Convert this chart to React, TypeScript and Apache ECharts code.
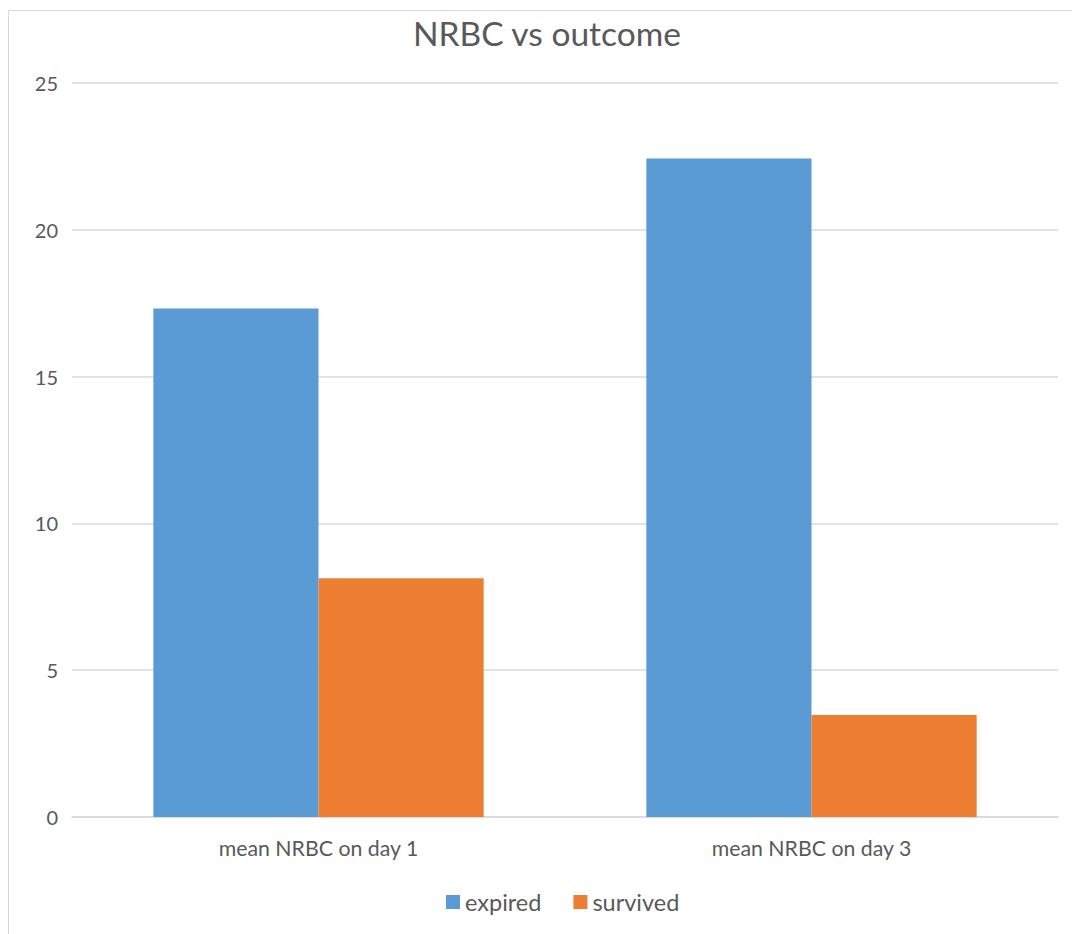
import React, { useEffect, useRef } from "react";
import * as echarts from "echarts";

const categories = ["mean NRBC on day 1", "mean NRBC on day 3"];
const expired = [17.32, 22.43];
const survived = [8.13, 3.47];
const seriesNames = ["expired", "survived"];

const FONT = "Lato, 'Open Sans', sans-serif";
const TEXT = "#595959";

export default function App() {
  const ref = useRef<HTMLDivElement>(null);

  useEffect(() => {
    if (!ref.current) return;
    const chart = echarts.init(ref.current, undefined, { renderer: "svg" });
    chart.setOption({
      animation: false,
      backgroundColor: "#ffffff",
      textStyle: { fontFamily: FONT },
      title: {
        text: "NRBC vs outcome",
        left: 408,
        top: 11,
        textStyle: { fontFamily: FONT, fontSize: 33.5, fontWeight: "normal", color: TEXT },
      },
      graphic: [
        {
          type: "rect",
          shape: { x: 8.5, y: 10.5, width: 1200, height: 1000 },
          style: { fill: "none", stroke: "#d9d9d9", lineWidth: 1 },
          silent: true,
        },
      ],
      legend: {
        data: seriesNames,
        left: 441,
        top: 885,
        itemWidth: 14,
        itemHeight: 14,
        itemGap: 32,
        icon: "rect",
        textStyle: { fontFamily: FONT, fontSize: 23.5, color: TEXT },
      },
      grid: { left: 72, right: 14, top: 83, bottom: 117, containLabel: false },
      xAxis: {
        type: "category",
        data: categories,
        axisLine: { lineStyle: { color: "#d9d9d9", width: 1.5 } },
        axisTick: { show: false },
        axisLabel: { fontFamily: FONT, fontSize: 21.3, color: TEXT, margin: 20 },
      },
      yAxis: {
        type: "value",
        min: 0,
        max: 25,
        interval: 5,
        axisLine: { show: false },
        axisTick: { show: false },
        splitLine: { lineStyle: { color: "#d9d9d9", width: 1.5 } },
        axisLabel: { fontFamily: FONT, fontSize: 20, color: TEXT, margin: 14 },
      },
      series: [
        {
          name: seriesNames[0],
          type: "bar",
          data: expired,
          barGap: "0%",
          barCategoryGap: "33%",
          itemStyle: { color: "#5B9BD5" },
        },
        {
          name: seriesNames[1],
          type: "bar",
          data: survived,
          barGap: "0%",
          barCategoryGap: "33%",
          itemStyle: { color: "#ED7D31" },
        },
      ],
    });
    return () => chart.dispose();
  }, []);

  return (
    <div
      ref={ref}
      style={{ position: "fixed", left: 0, top: 0, width: 1072, height: 934 }}
    />
  );
}
